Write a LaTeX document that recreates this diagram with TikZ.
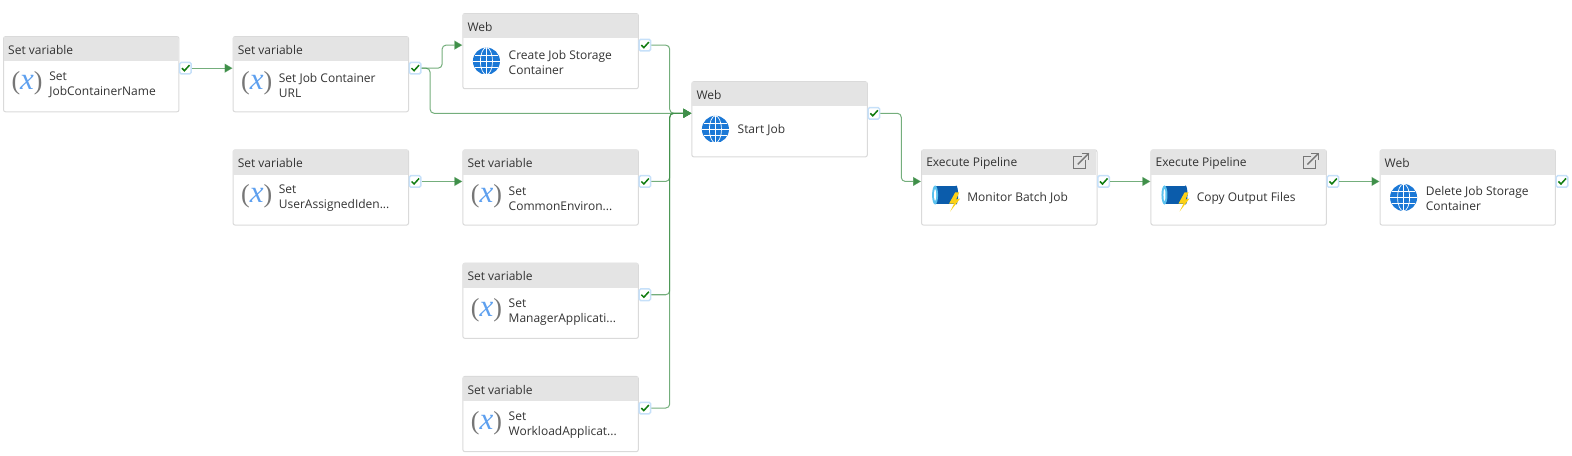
\documentclass[tikz,border=0pt]{standalone}
\usepackage{fontspec}
\setmainfont{Open Sans}
\newfontfamily\varfont{Liberation Serif}
\usetikzlibrary{arrows.meta}
\definecolor{edge}{HTML}{DADADA}
\definecolor{headfill}{HTML}{E4E4E4}
\definecolor{inktext}{HTML}{333333}
\definecolor{linkgreen}{HTML}{3F8F49}
\definecolor{okgreen}{HTML}{107C10}
\definecolor{okedge}{HTML}{C6E0F9}
\definecolor{parengray}{HTML}{767676}
\definecolor{varblue}{HTML}{5EA0EF}
\definecolor{globeblue}{HTML}{1B78D6}
\definecolor{barrel}{HTML}{0B5CAB}
\definecolor{flange}{HTML}{5BC2EE}
\definecolor{bolt}{HTML}{FCD116}
\tikzset{
  actbox/.style={draw=edge,fill=white,rounded corners=2bp,line width=1bp,
    minimum width=175bp,minimum height=75bp,anchor=north west,inner sep=0pt},
  acthead/.style={fill=headfill,minimum width=174bp,minimum height=24.5bp,
    anchor=north west,inner sep=0pt},
  acttype/.style={anchor=west,inner sep=0pt,text=inktext,font=\fontsize{12}{14}\selectfont},
  actname/.style={anchor=west,inner sep=0pt,align=left,text=inktext,
    font=\fontsize{12}{15}\selectfont},
  okbox/.style={draw=okedge,fill=white,rounded corners=1.5bp,line width=1.5bp,
    minimum size=11.5bp,inner sep=0pt},
  okmark/.style={draw=okgreen,line width=1.5bp},
  link/.style={draw=linkgreen,draw opacity=.72,line width=1bp,rounded corners=4bp,
    -{Triangle[length=8bp,width=9bp,fill=linkgreen]}},
  varicon/.pic={
    \node[inner sep=0pt,text=parengray,font=\varfont\fontsize{26}{26}\selectfont] (-sym) at (0,-1)
      {(\textcolor{varblue}{\fontsize{31}{31}\selectfont\itshape x})};
  },
  globeicon/.pic={
    \begin{scope}
    \clip (-14,-14) rectangle (14,12.5);
    \fill[globeblue] (0,0) circle [radius=13.5];
    \draw[white,line width=.7bp] (0,0) ellipse [x radius=6,y radius=13.5];
    \draw[white,line width=.7bp] (0,-13.5) -- (0,13.5);
    \draw[white,line width=.7bp] (-13.5,0) -- (13.5,0);
    \draw[white,line width=.7bp] (-11.5,-6) -- (11.5,-6);
    \draw[white,line width=.7bp] (-11.5,6) -- (11.5,6);
    \end{scope}
  },
  pipeicon/.pic={
    \fill[barrel] (-10,-11) rectangle (11,6);
    \fill[flange] (-10,-2.5) ellipse [x radius=3,y radius=9.5];
    \fill[white] (-10,-2.5) ellipse [x radius=1,y radius=6];
    \fill[barrel] (11,-2.5) ellipse [x radius=2,y radius=9.5];
    \fill[bolt] (10,-5) -- (4,6) -- (9,6) -- (5,14) -- (15,1) -- (11,2) -- (14,-5) -- cycle;
  },
  linkicon/.pic={
    \draw[parengray,line width=1.4bp] (8,3) -- (0,3) -- (0,15) -- (12,15) -- (12,7);
    \draw[parengray,line width=1.4bp] (4,11) -- (15,0);
    \draw[parengray,line width=1.4bp] (8,0) -- (15,0) -- (15,7);
  }
}
% name, left, top, type, icon, text
\newcommand{\activity}[6]{
  \node[actbox] (#1) at (#2,#3) {};
  \node[acthead] (#1-head) at ([shift={(.5,.5)}]#1.north west) {};
  \node[acttype] (#1-type) at (#2+5,#3+13.7) {#4};
  \pic at (#2+24,#3+48) {#5};
  \node[actname] (#1-name) at (#2+46,#3+49) {#6};
  \node[okbox] (#1-ok) at (#2+182,#3+32) {};
  \draw[okmark] (#2+178.5,#3+32) -- (#2+181,#3+34.5) -- (#2+186,#3+29);
  \coordinate (#1-in) at (#2,#3+32);
}
\begin{document}
\begin{tikzpicture}[x=1bp,y=-1bp]
\useasboundingbox (0,0) rectangle (1568,453.85);
\coordinate (splitlow) at (429,0);
\coordinate (splittop) at (441,0);
\coordinate (busjob) at (668,0);
\coordinate (busrun) at (899,0);

\activity{jobname}{3}{36}{Set variable}{varicon}{Set\\JobContainerName}
\activity{joburl}{232}{36}{Set variable}{varicon}{Set Job Container\\URL}
\activity{identity}{232}{149}{Set variable}{varicon}{Set\\UserAssignedIden...}
\activity{create}{461.2}{13}{Web}{globeicon}{Create Job Storage\\Container}
\activity{common}{461.2}{149}{Set variable}{varicon}{Set\\CommonEnviron...}
\activity{manager}{461.2}{262}{Set variable}{varicon}{Set\\ManagerApplicati...}
\activity{workload}{461.2}{375}{Set variable}{varicon}{Set\\WorkloadApplicat...}
\activity{start}{689.6}{81}{Web}{globeicon}{Start Job}
\activity{monitor}{918.7}{149}{Execute Pipeline}{pipeicon}{Monitor Batch Job}
\activity{copy}{1147.5}{149}{Execute Pipeline}{pipeicon}{Copy Output Files}
\activity{delete}{1376}{149}{Web}{globeicon}{Delete Job Storage\\Container}
\pic at (1071,153) {linkicon};
\pic at (1300,153) {linkicon};

\draw[link] (jobname-ok.east) -- (joburl-in);
\draw[link] (joburl-ok.east) -- (joburl-ok.east -| splittop) |- (create-in);
\draw[link] (joburl-ok.east) -- (joburl-ok.east -| splitlow) |- (start-in);
\draw[link] (identity-ok.east) -- (common-in);
\draw[link] (create-ok.east) -- (create-ok.east -| busjob) |- (start-in);
\draw[link] (common-ok.east) -- (common-ok.east -| busjob) |- (start-in);
\draw[link] (manager-ok.east) -- (manager-ok.east -| busjob) |- (start-in);
\draw[link] (workload-ok.east) -- (workload-ok.east -| busjob) |- (start-in);
\draw[link] (start-ok.east) -- (start-ok.east -| busrun) |- (monitor-in);
\draw[link] (monitor-ok.east) -- (copy-in);
\draw[link] (copy-ok.east) -- (delete-in);
\end{tikzpicture}
\end{document}
